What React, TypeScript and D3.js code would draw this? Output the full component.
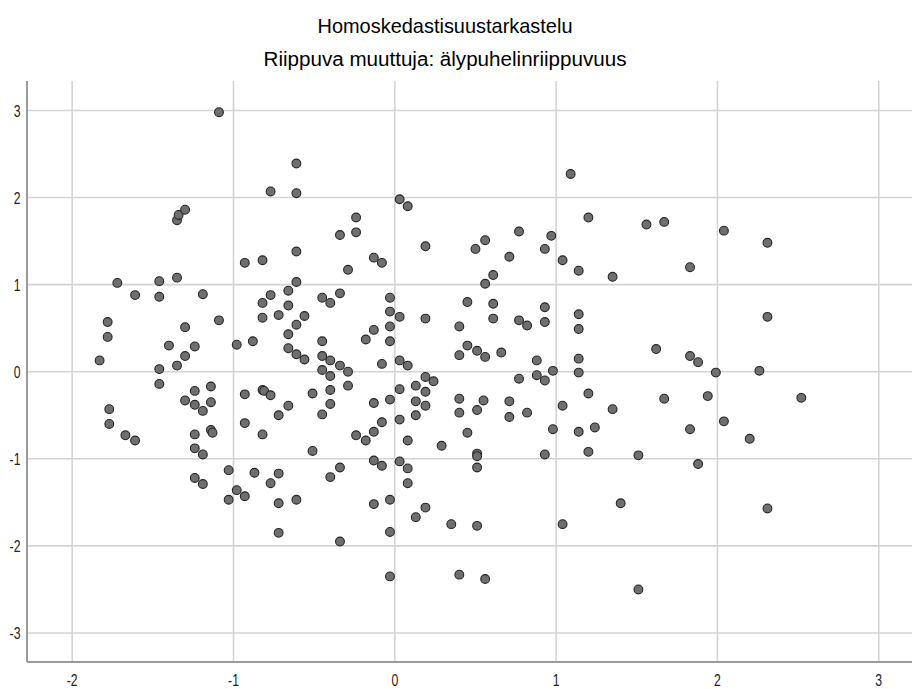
import React from "react";
import * as d3 from "d3";

const titleText = "Homoskedastisuustarkastelu";
const subtitleText = "Riippuva muuttuja: älypuhelinriippuvuus";

const xTicks = [-2, -1, 0, 1, 2, 3];
const yTicks = [-3, -2, -1, 0, 1, 2, 3];

// Regression standardized predicted value (x) vs standardized residual (y)
const predicted = [
  -1.83, -1.78, -1.78, -1.77, -1.77, -1.72, -1.67, -1.61, -1.61, -1.46,
  -1.46, -1.46, -1.46, -1.40, -1.35, -1.35, -1.34, -1.30, -1.35, -1.30,
  -1.30, -1.30, -1.24, -1.24, -1.24, -1.24, -1.24, -1.24, -1.19, -1.19,
  -1.19, -1.19, -1.14, -1.14, -1.14, -1.13, -1.09, -1.09, -1.03, -1.03,
  -0.98, -0.98, -0.93, -0.93, -0.93, -0.93, -0.88, -0.87, -0.82, -0.82,
  -0.82, -0.82, -0.81, -0.82, -0.77, -0.77, -0.77, -0.77, -0.72, -0.72,
  -0.72, -0.72, -0.72, -0.66, -0.66, -0.66, -0.66, -0.66, -0.61, -0.61,
  -0.61, -0.61, -0.61, -0.61, -0.61,
  -0.56, -0.56, -0.45, -0.40, -0.34, -0.45, -0.45, -0.40, -0.34, -0.29,
  -0.45, -0.40, -0.29, -0.51, -0.40, -0.40, -0.45, -0.51, -0.34, -0.40,
  -0.24, -0.18, -0.13, -0.08, -0.13, -0.13, -0.08, -0.13, -0.03, -0.03,
  -0.34, -0.03, 0.40, 0.56, -0.03, 0.03, 0.03, 0.03, 0.08, 0.08,
  0.08, 0.13, 0.19, 0.13, 0.19, 0.24, 0.19, 0.13, 0.19, 0.13,
  0.29, 0.40, 0.40, 0.45, 0.51, 0.55, 0.51, 0.51, 0.51, 0.35,
  0.51, 0.71, 0.71, 0.82, 0.77, 0.88, 0.93, 0.98, 1.14, 1.20,
  1.04, 0.98, 1.14, 1.24, 1.20, 0.93, 1.04,
  1.09, 0.03, 0.08, -0.24, -0.24, -0.34, 1.20, 0.77, 0.56, 0.50,
  0.19, 0.97, 0.93, 1.04, 1.14, 0.71, -0.13, -0.08, -0.29, 0.61,
  0.56, -0.03, -0.03, -0.03, -0.03, 0.03, 0.19, 0.45, 0.61, 0.61,
  0.77, 0.82, 0.93, 0.93, 1.14, 1.14, 1.14, 0.40, 0.45, 0.51,
  0.56, 0.40, 0.66, 0.88, -0.18, -0.13, -0.08, 0.03, 0.08,
  1.56, 1.67, 2.04, 2.31, 1.83, 1.35, 2.31, 1.62, 1.83, 1.88,
  1.99, 2.26, 1.67, 1.94, 2.52, 1.35, 1.83, 2.04, 2.20, 1.51,
  1.88, 1.40, 2.31, 1.51,
];

const residual = [
  0.13, 0.57, 0.40, -0.43, -0.60, 1.02, -0.73, -0.79, 0.88, 1.04,
  0.86, 0.03, -0.14, 0.30, 1.08, 1.74, 1.80, 1.86, 0.07, 0.51,
  0.18, -0.33, -0.22, -0.38, -0.72, -0.88, -1.22, 0.29, 0.89, -0.45,
  -0.95, -1.29, -0.17, -0.35, -0.67, -0.70, 0.59, 2.98, -1.13, -1.47,
  -1.36, 0.31, -1.43, -0.26, -0.59, 1.25, 0.35, -1.16, 1.28, 0.79,
  0.62, -0.21, -0.22, -0.72, -0.27, -1.28, 0.88, 2.07, 0.65, -0.50,
  -1.17, -1.51, -1.85, 0.93, 0.76, 0.43, 0.27, -0.39, 2.39, 2.05,
  1.38, 1.03, 0.54, 0.20, -1.47,
  0.64, 0.14, 0.85, 0.79, 0.90, 0.35, 0.18, 0.13, 0.07, 0.00,
  0.02, -0.05, -0.16, -0.25, -0.21, -0.37, -0.49, -0.91, -1.10, -1.21,
  -0.73, -0.79, -0.36, -0.58, -0.69, -1.02, -1.08, -1.52, -1.47, -1.84,
  -1.95, -2.35, -2.33, -2.38, -0.32, -0.20, -0.55, -1.03, -0.79, -1.11,
  -1.28, -1.67, -1.56, -0.16, -0.06, -0.11, -0.23, -0.34, -0.39, -0.50,
  -0.85, -0.31, -0.47, -0.70, -0.44, -0.33, -0.94, -0.97, -1.10, -1.75,
  -1.77, -0.34, -0.52, -0.47, -0.08, -0.04, -0.10, 0.01, -0.01, -0.25,
  -0.39, -0.66, -0.69, -0.64, -0.92, -0.95, -1.75,
  2.27, 1.98, 1.90, 1.77, 1.60, 1.57, 1.77, 1.61, 1.51, 1.41,
  1.44, 1.56, 1.41, 1.28, 1.16, 1.32, 1.31, 1.25, 1.17, 1.11,
  1.01, 0.85, 0.69, 0.52, 0.35, 0.63, 0.61, 0.80, 0.78, 0.61,
  0.59, 0.53, 0.74, 0.57, 0.66, 0.49, 0.15, 0.52, 0.30, 0.24,
  0.17, 0.19, 0.22, 0.13, 0.37, 0.48, 0.09, 0.13, 0.07,
  1.69, 1.72, 1.62, 1.48, 1.20, 1.09, 0.63, 0.26, 0.18, 0.11,
  -0.01, 0.01, -0.31, -0.28, -0.30, -0.43, -0.66, -0.57, -0.77, -0.96,
  -1.06, -1.51, -1.57, -2.50,
];

const W = 912;
const H = 689;
const plot = { left: 27, top: 81, right: 912, bottom: 662 };

export default function App() {
  const x = d3.scaleLinear().domain([-2.28, 3.206]).range([plot.left, plot.right]);
  const y = d3.scaleLinear().domain([-3.333, 3.338]).range([plot.bottom, plot.top]);
  const points = predicted.map((p, i) => ({ px: p, py: residual[i] }));
  const font = "'Liberation Sans', Arial, sans-serif";
  const cx = 445;
  return (
    <svg
      width={W}
      height={H}
      style={{ position: "absolute", left: 0, top: 0, background: "#fff" }}
      fontFamily={font}
    >
      <rect x={0} y={0} width={W} height={H} fill="#fff" />
      <text
        x={cx}
        y={33}
        fontSize={21}
        textAnchor="middle"
        textLength={255}
        lengthAdjust="spacingAndGlyphs"
        fill="#000"
      >
        {titleText}
      </text>
      <text
        x={cx}
        y={66}
        fontSize={20}
        textAnchor="middle"
        textLength={363}
        lengthAdjust="spacingAndGlyphs"
        fill="#000"
      >
        {subtitleText}
      </text>
      <g>
        {yTicks.map((t) => (
          <line
            key={"hy" + t}
            x1={plot.left}
            x2={plot.right}
            y1={y(t)}
            y2={y(t)}
            stroke="#d4d4d4"
            strokeWidth={1.6}
          />
        ))}
        {xTicks.map((t) => (
          <line
            key={"vx" + t}
            x1={x(t)}
            x2={x(t)}
            y1={plot.top}
            y2={plot.bottom}
            stroke="#d4d4d4"
            strokeWidth={1.6}
          />
        ))}
      </g>
      <line x1={plot.left} x2={plot.left} y1={plot.top} y2={plot.bottom} stroke="#9a9a9a" strokeWidth={2} />
      <line x1={plot.left} x2={plot.right} y1={plot.bottom} y2={plot.bottom} stroke="#9a9a9a" strokeWidth={2} />
      <g>
        {yTicks.map((t) => (
          <text
            key={"ly" + t}
            transform={`translate(${20.5},${y(t) + 6.5}) scale(0.72,1)`}
            fontSize={17}
            textAnchor="end"
            fill="#222"
          >
            {String(t)}
          </text>
        ))}
        {xTicks.map((t) => (
          <text
            key={"lx" + t}
            transform={`translate(${x(t)},${686}) scale(0.72,1)`}
            fontSize={17}
            textAnchor="middle"
            fill="#222"
          >
            {String(t)}
          </text>
        ))}
      </g>
      <g>
        {points.map((d, i) => (
          <circle
            key={i}
            cx={x(d.px)}
            cy={y(d.py)}
            r={4.4}
            fill="#6f6f6f"
            stroke="#252525"
            strokeWidth={1.1}
          />
        ))}
      </g>
    </svg>
  );
}
